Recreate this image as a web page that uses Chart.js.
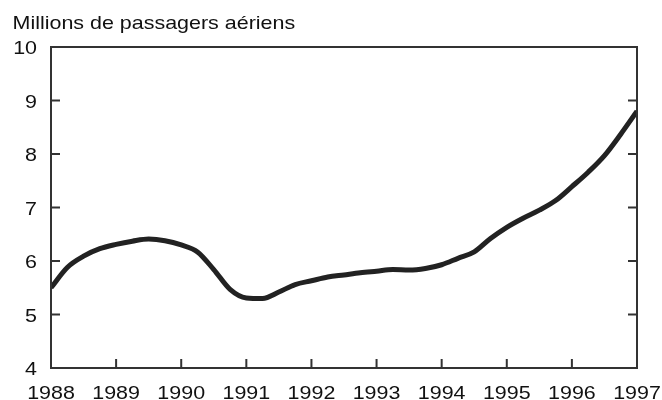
<!DOCTYPE html>
<html>
<head>
<meta charset="utf-8">
<script src="https://cdn.jsdelivr.net/npm/chart.js@4.4.0/dist/chart.umd.min.js"></script>
<style>
  html, body { margin: 0; padding: 0; background: #fff; }
  #wrap { width: 662px; height: 400px; }
</style>
</head>
<body>
<div id="wrap"><canvas id="passengersChart" width="662" height="400"></canvas></div>
<script>
// Data (quarterly)
const years = [
  1988, 1988.25, 1988.5, 1988.75, 1989, 1989.25, 1989.5, 1989.75,
  1990, 1990.25, 1990.5, 1990.75, 1991, 1991.25, 1991.5, 1991.75,
  1992, 1992.25, 1992.5, 1992.75, 1993, 1993.25, 1993.5, 1993.75,
  1994, 1994.25, 1994.5, 1994.75, 1995, 1995.25, 1995.5, 1995.75,
  1996, 1996.25, 1996.5, 1996.75, 1997
];
const passengers = [
  5.50, 5.88, 6.09, 6.23, 6.31, 6.37, 6.41, 6.38,
  6.30, 6.17, 5.84, 5.47, 5.31, 5.30, 5.42, 5.56,
  5.63, 5.70, 5.74, 5.78, 5.81, 5.84, 5.83, 5.86,
  5.93, 6.05, 6.17, 6.42, 6.63, 6.80, 6.95, 7.13,
  7.39, 7.66, 7.97, 8.37, 8.80
];
const xTicks = [1988, 1989, 1990, 1991, 1992, 1993, 1994, 1995, 1996, 1997];
const yTicks = [4, 5, 6, 7, 8, 9, 10];
const titleText = "Millions de passagers aériens";

const frameColor = "#333";
const textColor = "#111";
const fontFamily = "'Liberation Sans', Arial, sans-serif";
const stretch = 1.16; // the reference text is a bit wider than plain Arial

// draws text stretched horizontally, anchored at (x, y)
function wideText(ctx, text, x, y, align) {
  const w = ctx.measureText(text).width * stretch;
  let left = x;
  if (align === "center") left = x - w / 2;
  else if (align === "right") left = x - w;
  ctx.save();
  ctx.translate(left, y);
  ctx.scale(stretch, 1);
  ctx.textAlign = "left";
  ctx.fillText(text, 0, 0);
  ctx.restore();
}

// frame, inward tick marks, tick labels and title
const framePlugin = {
  id: "frame",
  afterDraw(chart) {
    const { ctx, chartArea: a, scales } = chart;
    ctx.save();
    ctx.strokeStyle = frameColor;
    ctx.lineWidth = 2;
    ctx.strokeRect(a.left, a.top, a.right - a.left, a.bottom - a.top);
    ctx.beginPath();
    xTicks.forEach((v) => {
      const px = scales.x.getPixelForValue(v);
      ctx.moveTo(px, a.bottom);
      ctx.lineTo(px, a.bottom - 9);
    });
    yTicks.forEach((v) => {
      const py = scales.y.getPixelForValue(v);
      ctx.moveTo(a.left, py);
      ctx.lineTo(a.left + 9, py);
      ctx.moveTo(a.right, py);
      ctx.lineTo(a.right - 9, py);
    });
    ctx.stroke();

    ctx.fillStyle = textColor;
    ctx.font = "18.5px " + fontFamily;
    ctx.textBaseline = "alphabetic";
    xTicks.forEach((v) => {
      wideText(ctx, String(v), scales.x.getPixelForValue(v), 399, "center");
    });
    yTicks.forEach((v) => {
      wideText(ctx, String(v), 37, scales.y.getPixelForValue(v) + 7, "right");
    });
    wideText(ctx, titleText, 12.5, 28.5, "left");
    ctx.restore();
  },
};

const ctx = document.getElementById("passengersChart").getContext("2d");
new Chart(ctx, {
  type: "line",
  data: {
    datasets: [
      {
        data: years.map((y, i) => ({ x: y, y: passengers[i] })),
        borderColor: "#222",
        borderWidth: 5,
        pointRadius: 0,
        cubicInterpolationMode: "monotone",
        fill: false,
      },
    ],
  },
  options: {
    responsive: false,
    animation: false,
    layout: { padding: { top: 47, right: 25, left: 0, bottom: 0 } },
    plugins: { legend: { display: false }, tooltip: { enabled: false } },
    scales: {
      x: {
        type: "linear",
        min: 1988,
        max: 1997,
        grid: { display: false },
        border: { display: false },
        ticks: { display: false },
        afterFit: (scale) => {
          scale.height = 32;
        },
      },
      y: {
        min: 4,
        max: 10,
        grid: { display: false },
        border: { display: false },
        ticks: { display: false },
        afterFit: (scale) => {
          scale.width = 51;
        },
      },
    },
  },
  plugins: [framePlugin],
});
</script>
</body>
</html>
